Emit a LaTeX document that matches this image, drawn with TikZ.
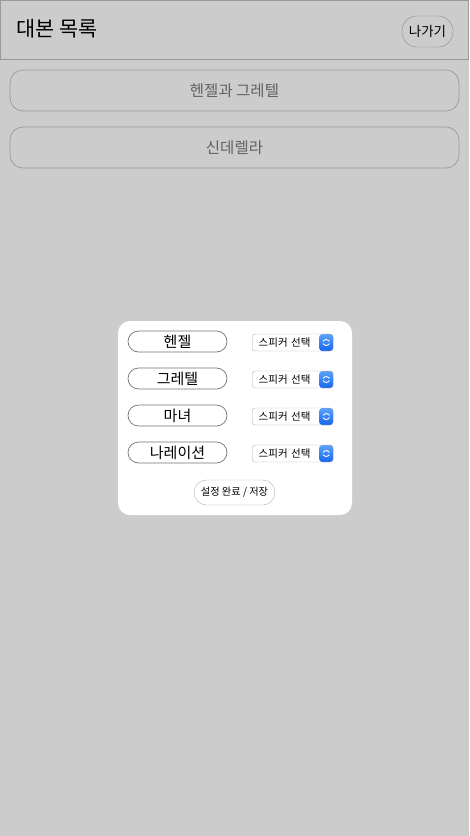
\documentclass[tikz,border=0pt]{standalone}
\usepackage{fontspec}
\setmainfont{Noto Sans CJK KR}
\usepackage{xcolor}
\usepackage{tikz}
\usetikzlibrary{shapes,positioning}
\definecolor{bggray}{HTML}{CCCCCC}
\definecolor{linegray}{HTML}{999999}
\definecolor{bluetop}{HTML}{5DA2F9}
\definecolor{bluebot}{HTML}{1766EE}
\tikzset{
  header/.style={draw=linegray, fill=bggray, line width=0.9pt},
  titletext/.style={font=\fontsize{20.8}{20.8}\selectfont, inner sep=0pt, anchor=west},
  exitbtn/.style={draw=black!45, rounded corners=15pt, minimum width=51pt, minimum height=31pt, inner sep=0pt, font=\fontsize{13.5}{13.5}\selectfont},
  listbtn/.style={draw=linegray, rounded corners=13pt, minimum width=449pt, minimum height=41pt, inner sep=0pt, text=black!62, font=\fontsize{15.5}{15.5}\selectfont, line width=0.7pt},
  dialog/.style={fill=white, rounded corners=12pt, minimum width=234pt, minimum height=194pt},
  namepill/.style={draw=black!55, rounded corners=10.5pt, minimum width=99pt, minimum height=21pt, inner sep=0pt, font=\fontsize{15}{15}\selectfont, line width=0.7pt},
  selbox/.style={draw=black!30, fill=white, rounded corners=3pt, anchor=west, text width=68pt, align=left, inner xsep=6.5pt, inner ysep=0pt, minimum height=17pt, font=\fontsize{10.5}{10.5}\selectfont,
    path picture={
      \shade[top color=bluetop, bottom color=bluebot] ([xshift=-14pt]path picture bounding box.north east) rectangle (path picture bounding box.south east);
      \draw[white, line width=0.9pt, line cap=round, line join=round] ([xshift=-10pt,yshift=1.3pt]path picture bounding box.east) -- ++(3pt,3pt) -- ++(3pt,-3pt);
      \draw[white, line width=0.9pt, line cap=round, line join=round] ([xshift=-10pt,yshift=-1.3pt]path picture bounding box.east) -- ++(3pt,-3pt) -- ++(3pt,3pt);
    }},
  savebtn/.style={draw=black!30, fill=white, rounded corners=12.5pt, minimum width=81pt, minimum height=25pt, inner sep=0pt, font=\fontsize{10.2}{10.2}\selectfont}
}

\begin{document}
\begin{tikzpicture}[x=1pt,y=-1pt]
	\fill[bggray] (0,0) rectangle (469,836);
	\useasboundingbox (0,0) rectangle (469,836);
	% top bar
	\draw[header] (0.5,0.5) rectangle (468.5,59);
	\node [titletext] (title) at (16,29) {대본 목록};
	\node [exitbtn] (exit) at (427.5,31.5) {나가기};
	% script list
	\node [listbtn] (hansel) at (234.5,90.5) {헨젤과 그레텔};
	\node [listbtn] (cinder) at (234.5,147.5) {신데렐라};
	% speaker dialog
	\node [dialog] (dlg) at (235,418) {};
	\node [namepill] (role1) at (177.5,341.5) {헨젤};
	\node [namepill] (role2) at (177.5,378.5) {그레텔};
	\node [namepill] (role3) at (177.5,415.5) {마녀};
	\node [namepill] (role4) at (177.5,452.5) {나레이션};
	\node [selbox] (spk1) at (252,342.5) {스피커 선택};
	\node [selbox] (spk2) at (252,379.5) {스피커 선택};
	\node [selbox] (spk3) at (252,416.5) {스피커 선택};
	\node [selbox] (spk4) at (252,453.5) {스피커 선택};
	\node [savebtn] (save) at (234.5,492.5) {설정 완료 / 저장};
\end{tikzpicture}
\end{document}
